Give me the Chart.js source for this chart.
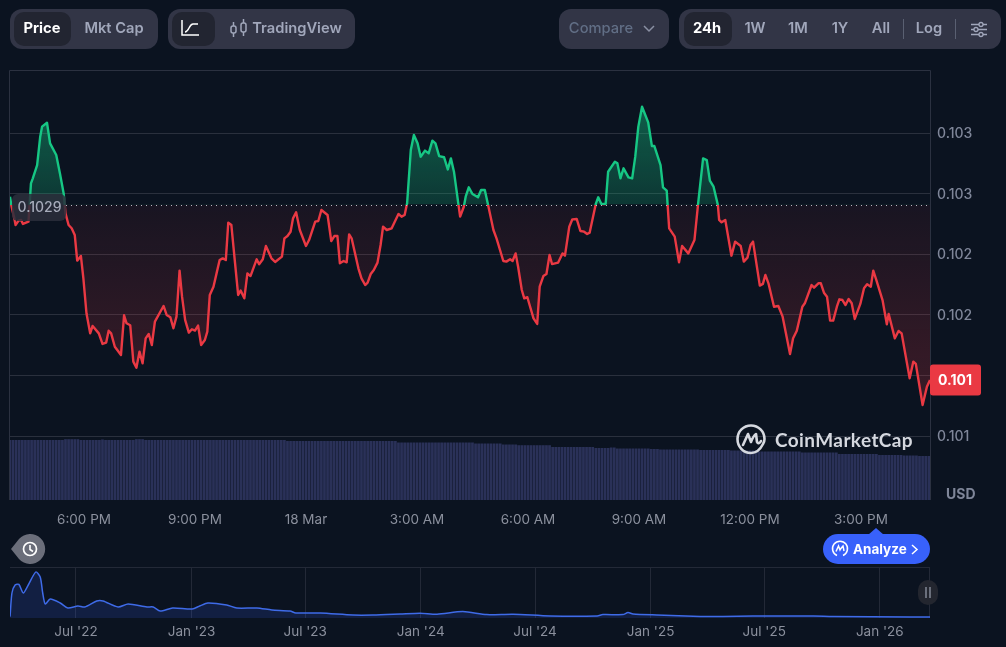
<!DOCTYPE html>
<html>
<head>
<meta charset="utf-8">
<title>Price chart</title>
<script src="https://cdn.jsdelivr.net/npm/chart.js@4/dist/chart.umd.min.js"></script>
<style>
  html, body { margin: 0; padding: 0; background: #0b1320; }
  body { width: 1006px; height: 647px; position: relative; overflow: hidden; font-family: Inter, sans-serif; }
  canvas { position: absolute; left: 0; }
  #mainChart { top: 0; }
  #navChart { top: 560px; }
  .group { position: absolute; top: 9px; height: 40px; background: #323546; border-radius: 12px; }
  .btn { position: absolute; top: 9px; height: 40px; line-height: 38px; font-size: 14.7px; font-weight: 600; color: #a1a7bb; text-align: center; transform: translateX(-50%); white-space: nowrap; }
  .active { position: absolute; top: 12px; height: 34px; background: #222531; border-radius: 10px; }
  .white { color: #fff; font-weight: 700; }
  .sep { position: absolute; top: 19px; width: 1px; height: 20px; background: #5a6072; }
  svg { position: absolute; overflow: visible; }
  #usd { position: absolute; left: 946px; top: 485px; font-size: 14px; font-weight: 700; color: #7f8699; }
  #mark { position: absolute; left: 775px; top: 428px; font-family: Lato, sans-serif; font-size: 19px; font-weight: 700; letter-spacing: 0.4px; color: #d5d8df; }
  #analyze { position: absolute; left: 823px; top: 534px; width: 107px; height: 30px; border-radius: 15px; background: #3861fb; }
  #analyze span { position: absolute; left: 30px; top: 0; line-height: 30px; font-size: 13.5px; font-weight: 700; color: #fff; }
  #handle { position: absolute; left: 918px; top: 580px; width: 20px; height: 25px; border-radius: 10px; background: #23262f; }
</style>
</head>
<body>
<canvas id="mainChart" width="1006" height="530"></canvas>
<canvas id="navChart" width="1006" height="87"></canvas>

<div class="group" style="left:10px;width:148px"></div>
<div class="active" style="left:14px;width:57px"></div>
<div class="btn white" style="left:42px">Price</div>
<div class="btn" style="left:114px">Mkt Cap</div>

<div class="group" style="left:168px;width:187px"></div>
<div class="active" style="left:172px;width:43px"></div>
<svg style="left:181px;top:20px" width="18" height="16" fill="none" stroke="#fff" stroke-width="1.5">
  <path d="M1 0V15H18"/><path d="M4 12C8 12 8 4 12 4H17"/>
</svg>
<svg style="left:230px;top:19px" width="17" height="20" fill="none" stroke="#a1a7bb" stroke-width="1.5">
  <rect x="1" y="7" width="5" height="7" rx="2"/><rect x="11" y="4" width="5" height="9" rx="2"/>
  <path d="M3.5 3V7M3.5 14V18M13.5 0V4M13.5 13V17"/>
</svg>
<div class="btn" style="left:297px">TradingView</div>

<div class="group" style="left:559px;width:110px"></div>
<div class="btn" style="left:601px;color:#616e85;font-weight:500">Compare</div>
<svg style="left:643px;top:25px" width="12" height="7" fill="none" stroke="#8a90a3" stroke-width="1.5"><path d="M1 1L6 6L11 1"/></svg>

<div class="group" style="left:679px;width:322px"></div>
<div class="active" style="left:684px;width:48px"></div>
<div class="btn white" style="left:707px">24h</div>
<div class="btn" style="left:755px">1W</div>
<div class="btn" style="left:798px">1M</div>
<div class="btn" style="left:840px">1Y</div>
<div class="btn" style="left:881px">All</div>
<div class="sep" style="left:903px"></div>
<div class="btn" style="left:929px">Log</div>
<div class="sep" style="left:955px"></div>
<svg style="left:971px;top:22px" width="16" height="15" fill="none" stroke="#a1a7bb" stroke-width="1.3">
  <path d="M0 2.5H8M12 2.5H16M0 7.5H3M7 7.5H16M0 12.5H8M12 12.5H16"/>
  <circle cx="10" cy="2.5" r="2"/><circle cx="5" cy="7.5" r="2"/><circle cx="10" cy="12.5" r="2"/>
</svg>

<div id="usd">USD</div>

<svg style="left:736px;top:424px" width="30" height="30" fill="none" stroke="#d5d8df" stroke-width="2.6" stroke-linecap="round" stroke-linejoin="round">
  <path d="M27 20C24 26 20 29 15 29C7 29 1.500 22.500 1.500 15C1.500 7.500 7.500 1.500 15 1.500C22.500 1.500 28.500 7.500 28.500 15C28.500 17 28 18.500 27 20"/>
  <path d="M7 21L12 10L15 18C16.500 14 18.500 11 20 10L21 18C22 20 24 19 25 17"/>
</svg>
<div id="mark">CoinMarketCap</div>

<svg style="left:11px;top:534px" width="34" height="30">
  <path d="M0 15L8 5A15 15 0 1 1 8 25Z" fill="#6b6e7a"/>
  <circle cx="19" cy="15" r="6.500" fill="none" stroke="#fff" stroke-width="1.700"/>
  <path d="M19 11V15.500L22 17.500" fill="none" stroke="#fff" stroke-width="1.600"/>
</svg>

<svg style="left:868px;top:528px" width="16" height="7"><path d="M0 7L8 0L16 7Z" fill="#3861fb"/></svg>
<div id="analyze">
  <svg style="left:9px;top:7px" width="16" height="16" fill="none" stroke="#fff" stroke-width="1.500">
    <path d="M5 14.500A7.500 7.500 0 1 1 11 14.500"/><path d="M4 10.500L6.500 5L8 9C9 7 10 6 11 5L12 10"/>
  </svg>
  <span>Analyze</span>
  <svg style="left:88px;top:10px" width="7" height="11" fill="none" stroke="#fff" stroke-width="1.500"><path d="M1 1L6 5.500L1 10"/></svg>
</div>

<div id="handle">
  <svg style="left:7px;top:7px" width="6" height="11" stroke="#9aa0b0" stroke-width="1.200"><path d="M1 0V11M5 0V11"/></svg>
</div>

<script>
// minutes after 4:00 PM on 17 Mar
const priceMinutes = [
  0, 2, 7, 9, 14, 18, 21, 30, 34, 37,
  44, 49, 52, 60, 65, 75, 81, 87, 90, 95,
  100, 105, 109, 115, 119, 124, 130, 134, 144, 150,
  156, 160, 164, 170, 180, 185, 189, 195, 200, 205,
  210, 215, 220, 225, 230, 235, 249, 254, 260, 265,
  270, 275, 279, 284, 290, 295, 300, 305, 310, 316,
  320, 324, 330, 335, 340, 345, 350, 354, 359, 365,
  370, 374, 380, 385, 390, 400, 404, 410, 415, 424,
  430, 441, 445, 450, 455, 459, 464, 470, 480, 485,
  495, 500, 505, 515, 521, 526, 531, 535, 541, 546,
  550, 554, 565, 570, 576, 580, 585, 590, 596, 601,
  605, 611, 619, 630, 635, 640, 644, 650, 655, 661,
  666, 673, 679, 685, 690, 696, 704, 710, 715, 720,
  727, 730, 736, 739, 744, 750, 759, 764, 770, 775,
  784, 789, 800, 805, 811, 815, 820, 824, 830, 834,
  839, 849, 855, 859, 865, 870, 875, 879, 889, 896,
  900, 907, 912, 919, 925, 931, 936, 940, 950, 954,
  959, 966, 970, 981, 985, 990, 995, 1003, 1009, 1014,
  1019, 1025, 1035, 1041, 1045, 1055, 1059, 1065, 1069, 1078,
  1085, 1090, 1100, 1110, 1116, 1124, 1130, 1135, 1141, 1148,
  1150, 1154, 1160, 1170, 1176, 1185, 1190, 1196, 1201, 1205,
  1216, 1221, 1225, 1230, 1239, 1246, 1253, 1265, 1270, 1276,
  1285, 1289, 1300, 1304, 1311, 1315, 1320, 1325, 1330, 1335,
  1341, 1345, 1350, 1355, 1360, 1365, 1370, 1379, 1385, 1390,
  1396, 1400, 1405, 1415, 1422, 1425, 1435, 1441, 1446, 1459,
  1465, 1469, 1480, 1487, 1492
];
const priceValues = [
  0.102975, 0.102906, 0.102796, 0.102741, 0.102777, 0.102783, 0.102750, 0.102769, 0.103085, 0.103126,
  0.103236, 0.103470, 0.103553, 0.103585, 0.103415, 0.103319, 0.103167, 0.103002, 0.102837, 0.102741,
  0.102714, 0.102659, 0.102447, 0.102485, 0.102301, 0.102013, 0.101847, 0.101908, 0.101847, 0.101760,
  0.101771, 0.101869, 0.101847, 0.101737, 0.101669, 0.101996, 0.101930, 0.101914, 0.101614, 0.101564,
  0.101696, 0.101600, 0.101806, 0.101842, 0.101751, 0.101944, 0.102073, 0.101999, 0.101980, 0.101889,
  0.101985, 0.102365, 0.102150, 0.101958, 0.101853, 0.101881, 0.101870, 0.101911, 0.101751, 0.101792,
  0.101861, 0.102164, 0.102232, 0.102342, 0.102452, 0.102466, 0.102452, 0.102761, 0.102741, 0.102425,
  0.102164, 0.102200, 0.102136, 0.102342, 0.102320, 0.102458, 0.102417, 0.102458, 0.102568, 0.102466,
  0.102436, 0.102480, 0.102631, 0.102650, 0.102686, 0.102796, 0.102846, 0.102700, 0.102568, 0.102617,
  0.102769, 0.102774, 0.102865, 0.102824, 0.102609, 0.102650, 0.102650, 0.102425, 0.102444, 0.102433,
  0.102664, 0.102631, 0.102384, 0.102301, 0.102246, 0.102265, 0.102337, 0.102370, 0.102431, 0.102576,
  0.102727, 0.102700, 0.102714, 0.102832, 0.102810, 0.102824, 0.102920, 0.103360, 0.103484, 0.103415,
  0.103305, 0.103355, 0.103333, 0.103437, 0.103415, 0.103310, 0.103300, 0.103200, 0.103291, 0.103181,
  0.102920, 0.102810, 0.102892, 0.102975, 0.103052, 0.102997, 0.102970, 0.103030, 0.103030, 0.102915,
  0.102700, 0.102631, 0.102444, 0.102439, 0.102458, 0.102444, 0.102507, 0.102397, 0.102205, 0.102136,
  0.102145, 0.101971, 0.101925, 0.102232, 0.102320, 0.102337, 0.102494, 0.102419, 0.102431, 0.102507,
  0.102488, 0.102727, 0.102788, 0.102791, 0.102692, 0.102686, 0.102667, 0.102678, 0.102915, 0.102970,
  0.102915, 0.102915, 0.103181, 0.103264, 0.103250, 0.103126, 0.103209, 0.103134, 0.103126, 0.103305,
  0.103553, 0.103717, 0.103588, 0.103393, 0.103393, 0.103236, 0.103052, 0.103025, 0.102714, 0.102645,
  0.102433, 0.102568, 0.102507, 0.102617, 0.102920, 0.103291, 0.103277, 0.103107, 0.103057, 0.102906,
  0.102783, 0.102763, 0.102783, 0.102488, 0.102604, 0.102568, 0.102439, 0.102472, 0.102576, 0.102604,
  0.102241, 0.102255, 0.102329, 0.102260, 0.102067, 0.102073, 0.101985, 0.101677, 0.101806, 0.101869,
  0.102067, 0.102095, 0.102246, 0.102224, 0.102260, 0.102260, 0.102183, 0.102150, 0.101952, 0.101952,
  0.102067, 0.102128, 0.102122, 0.102081, 0.102131, 0.102095, 0.101966, 0.102090, 0.102219, 0.102252,
  0.102232, 0.102365, 0.102287, 0.102122, 0.101922, 0.102007, 0.101806, 0.101867, 0.101847, 0.101476,
  0.101614, 0.101595, 0.101256, 0.101407, 0.101462
];
// one bar every 5 minutes
const volumeValues = [
  60, 60, 60, 60, 60, 60, 60, 60, 60, 60, 60, 60, 60, 60, 60, 60, 60, 60, 60.8, 60.8,
  60.8, 60.8, 60.8, 60, 60, 60, 60, 60, 60, 60, 60.5, 60, 60, 60, 60, 60, 60, 60, 60, 60,
  60, 60.8, 60.8, 60.8, 60, 60, 60, 60, 60, 60, 60, 60, 60, 60, 60, 60, 60, 60, 60, 60,
  60, 60, 60, 60, 60, 60, 60, 60, 60, 60, 60, 60, 60, 60, 60, 60, 60, 60, 60, 60,
  60, 60, 60, 60, 60, 60, 60, 60, 60, 60, 59, 59, 59, 59, 59, 59, 59, 59, 59, 59,
  59, 59, 59, 59, 59, 59, 59, 59, 59, 59, 59, 59, 59, 59, 59, 59, 59, 59, 59, 59,
  59, 59, 59, 59, 59, 59, 57.5, 57.5, 57.5, 57.5, 57.5, 57.5, 57.5, 57.5, 57.5, 57.5, 57.5, 57.5, 57.5, 57.5,
  57.5, 57.5, 57.5, 57.5, 57.5, 57.5, 57.5, 57.5, 57.5, 57.5, 57.5, 56.5, 56.5, 56.5, 56.5, 56.5, 56.5, 56.5, 56.5, 56.5,
  55.5, 55.5, 55.5, 55.5, 55.5, 54.8, 54.8, 54.8, 54.8, 54.8, 54.8, 54.8, 54.8, 54.8, 54.8, 54.8, 53, 53, 53, 53,
  53, 53, 53, 53, 53, 53, 53, 53, 53, 53, 52, 52, 52, 52, 52, 52.5, 52.5, 51.5, 51.5, 51.5,
  51.5, 51.5, 51.5, 51.5, 51.5, 51.5, 51.5, 51.5, 51, 51, 51, 50.5, 50.5, 50.5, 50.5, 50.5, 50.5, 50.5, 50.5, 50.5,
  50.5, 50.5, 50.5, 50.5, 50, 50, 50, 50, 50, 50, 50, 50, 50, 50, 49.5, 49.5, 49.5, 49.5, 49.5, 49.5,
  49.5, 49.5, 49.5, 48.5, 48.5, 48.5, 48.5, 48.5, 48.5, 48.5, 48.5, 48.5, 48.5, 48.5, 48.5, 48.5, 48.5, 47.5, 47.5, 47.5,
  47.5, 47.5, 47.5, 47.5, 47.5, 47.5, 47.5, 47.5, 47.5, 46, 46, 46, 46, 46, 46, 46, 46, 46, 46, 46,
  46, 46, 45, 45, 45, 45, 45, 45, 45, 45, 44.5, 44.5, 44.5, 44.5, 44.5, 44, 44, 44, 44
];
const xTickMinutes = [120, 300, 480, 660, 840, 1020, 1200, 1380];
const xTickLabels = ["6:00 PM", "9:00 PM", "18 Mar", "3:00 AM", "6:00 AM", "9:00 AM", "12:00 PM", "3:00 PM"];
const yTickValues = [0.1035, 0.103, 0.1025, 0.102, 0.1015, 0.101];
const yTickLabels = ["0.103", "0.103", "0.102", "0.102", "0.101", "0.101"];
const baselinePrice = 0.10291;
const baselineLabel = "0.1029";
const lastPriceLabel = "0.101";

// days after 1 Jul 2022
const navDays = [
  -105, -102, -97, -91, -84, -76, -64, -57, -53, -49,
  -41, -25, -13, 3, 14, 33, 43, 67, 83, 113,
  123, 134, 154, 185, 197, 210, 240, 256, 288, 312,
  341, 350, 389, 441, 473, 516, 548, 575, 616, 654,
  696, 755, 830, 839, 871, 879, 887, 925, 994, 1030,
  1078, 1174, 1205, 1328, 1360
];
const navPrices = [
  0.07, 1.25, 1.65, 1.68, 1.25, 1.65, 2.30, 2.05, 1.25, 0.70,
  0.95, 0.75, 0.50, 0.60, 0.55, 0.85, 0.85, 0.55, 0.70, 0.55,
  0.55, 0.35, 0.50, 0.45, 0.60, 0.75, 0.65, 0.50, 0.50, 0.40,
  0.35, 0.25, 0.25, 0.15, 0.15, 0.20, 0.24, 0.19, 0.32, 0.17,
  0.19, 0.10, 0.10, 0.17, 0.17, 0.27, 0.20, 0.15, 0.08, 0.08,
  0.10, 0.10, 0.08, 0.05, 0.05
];
const navTickDays = [0, 184, 365, 549, 731, 915, 1096, 1280];
const navTickLabels = ["Jul '22", "Jan '23", "Jul '23", "Jan '24", "Jul '24", "Jan '25", "Jul '25", "Jan '26"];

const GREEN = "#16c784";
const RED = "#ea3943";
const GRID = "#2a303d";
const EDGE = "#2b3140";
const AXIS_TEXT = "#7f8699";

const framePlugin = {
  id: "frame",
  beforeDatasetsDraw(chart) {
    const { ctx, chartArea: a } = chart;
    ctx.save();
    ctx.strokeStyle = EDGE;
    ctx.lineWidth = 1;
    ctx.beginPath();
    ctx.moveTo(a.left - 0.5, a.bottom);
    ctx.lineTo(a.left - 0.5, a.top - 0.5);
    ctx.lineTo(a.right + 0.5, a.top - 0.5);
    ctx.lineTo(a.right + 0.5, a.bottom);
    ctx.stroke();
    ctx.restore();
  }
};

const labelsPlugin = {
  id: "priceLabels",
  afterDraw(chart) {
    const { ctx, chartArea: a, scales } = chart;
    const base = Math.round(scales.y.getPixelForValue(baselinePrice)) + 0.5;
    const last = scales.y.getPixelForValue(priceValues[priceValues.length - 1]);
    ctx.save();
    // dotted open price line
    ctx.strokeStyle = "rgba(225,228,235,0.8)";
    ctx.setLineDash([1, 4]);
    ctx.beginPath();
    ctx.moveTo(66, base);
    ctx.lineTo(a.right - 3, base);
    ctx.stroke();
    ctx.setLineDash([]);
    // open price tag
    ctx.fillStyle = "rgba(44,47,60,0.85)";
    ctx.beginPath();
    ctx.roundRect(12, base - 11.5, 54, 27, 6);
    ctx.fill();
    ctx.font = "500 14px Inter";
    ctx.fillStyle = "#a6abba";
    ctx.textBaseline = "middle";
    ctx.textAlign = "center";
    ctx.fillText(baselineLabel, 39.5, base + 2.5);
    // last price tag
    ctx.fillStyle = RED;
    ctx.beginPath();
    ctx.roundRect(a.right, last - 15.5, 51, 31, 3);
    ctx.fill();
    ctx.font = "700 14px Inter";
    ctx.fillStyle = "#fff";
    ctx.fillText(lastPriceLabel, a.right + 25, last + 0.5);
    ctx.restore();
  }
};

const mainChart = new Chart(document.getElementById("mainChart"), {
  type: "line",
  data: {
    datasets: [
      {
        label: "Price",
        data: priceMinutes.map((m, i) => ({ x: m, y: priceValues[i] })),
        yAxisID: "y",
        borderColor: RED,
        borderWidth: 2.4,
        borderJoinStyle: "round",
        pointRadius: 0,
        tension: 0,
        order: 1
      },
      {
        type: "bar",
        label: "Volume",
        data: volumeValues.map((v, i) => ({ x: i * 5, y: v })),
        yAxisID: "vol",
        backgroundColor: "#2a3158",
        barPercentage: 0.88,
        categoryPercentage: 1,
        order: 2
      }
    ]
  },
  options: {
    responsive: false,
    animation: false,
    layout: { padding: { left: 10, top: 71, right: 0, bottom: 0 } },
    plugins: { legend: { display: false }, tooltip: { enabled: false } },
    scales: {
      x: {
        type: "linear",
        offset: false,
        min: 0,
        max: 1492,
        grid: { display: false },
        border: { display: false },
        afterFit: s => { s.height = 30; },
        afterBuildTicks: s => { s.ticks = xTickMinutes.map(value => ({ value })); },
        ticks: {
          autoSkip: false,
          maxRotation: 0,
          padding: 4,
          color: "#8b909d",
          font: { family: "Inter", size: 13.5 },
          callback: (v, i) => xTickLabels[i]
        }
      },
      y: {
        position: "right",
        min: 0.100472,
        max: 0.104012,
        grid: { color: GRID, drawTicks: false },
        border: { display: false },
        afterFit: s => { s.width = 76; },
        afterBuildTicks: s => { s.ticks = yTickValues.map(value => ({ value })); },
        ticks: {
          padding: 7,
          labelOffset: 1,
          color: AXIS_TEXT,
          font: { family: "Inter", size: 14, weight: 500 },
          callback: (v, i) => yTickLabels[i]
        }
      },
      vol: { display: false, min: 0, max: 429 }
    }
  },
  plugins: [framePlugin, labelsPlugin]
});

// line and fill change colour at the open price, so they need the finished scale
const y = mainChart.scales.y;
const a = mainChart.chartArea;
const g = mainChart.ctx;
const basePx = y.getPixelForValue(baselinePrice);
const stop = (basePx - a.top) / (a.bottom - a.top);

const lineGrad = g.createLinearGradient(0, a.top, 0, a.bottom);
lineGrad.addColorStop(0, GREEN);
lineGrad.addColorStop(stop, GREEN);
lineGrad.addColorStop(stop, RED);
lineGrad.addColorStop(1, RED);

const greenFill = g.createLinearGradient(0, y.getPixelForValue(0.10372), 0, basePx);
greenFill.addColorStop(0, "rgba(22,199,132,0.42)");
greenFill.addColorStop(1, "rgba(22,199,132,0.2)");

const redFill = g.createLinearGradient(0, basePx, 0, y.getPixelForValue(0.10126));
redFill.addColorStop(0, "rgba(234,57,67,0.06)");
redFill.addColorStop(1, "rgba(234,57,67,0.22)");

const priceSet = mainChart.data.datasets[0];
priceSet.borderColor = lineGrad;
priceSet.fill = { target: { value: baselinePrice }, above: greenFill, below: redFill };
mainChart.update("none");

new Chart(document.getElementById("navChart"), {
  type: "line",
  data: {
    datasets: [{
      label: "All time",
      data: navDays.map((d, i) => ({ x: d, y: navPrices[i] })),
      borderColor: "#3f6be8",
      borderWidth: 1.5,
      backgroundColor: "rgba(56,97,251,0.16)",
      fill: "origin",
      pointRadius: 0,
      tension: 0.25
    }]
  },
  options: {
    responsive: false,
    animation: false,
    layout: { padding: { left: 10, top: 7, right: 76, bottom: 0 } },
    plugins: { legend: { display: false }, tooltip: { enabled: false } },
    scales: {
      x: {
        type: "linear",
        min: -105.1,
        max: 1360,
        grid: { color: "#232937", drawTicks: false },
        border: { display: false },
        afterFit: s => { s.height = 29; },
        afterBuildTicks: s => { s.ticks = navTickDays.map(value => ({ value })); },
        ticks: {
          autoSkip: false,
          maxRotation: 0,
          padding: 6,
          color: "#8b909d",
          font: { family: "Inter", size: 13.5 },
          callback: (v, i) => navTickLabels[i]
        }
      },
      y: { display: false, min: 0, max: 2.55 }
    }
  },
  plugins: [{
    id: "navTop",
    beforeDatasetsDraw(chart) {
      const { ctx, chartArea: a } = chart;
      ctx.strokeStyle = "#232937";
      ctx.beginPath();
      ctx.moveTo(a.left, a.top + 0.5);
      ctx.lineTo(a.right, a.top + 0.5);
      ctx.moveTo(a.right - 0.5, a.top);
      ctx.lineTo(a.right - 0.5, a.bottom);
      ctx.stroke();
    }
  }]
});
</script>
</body>
</html>
